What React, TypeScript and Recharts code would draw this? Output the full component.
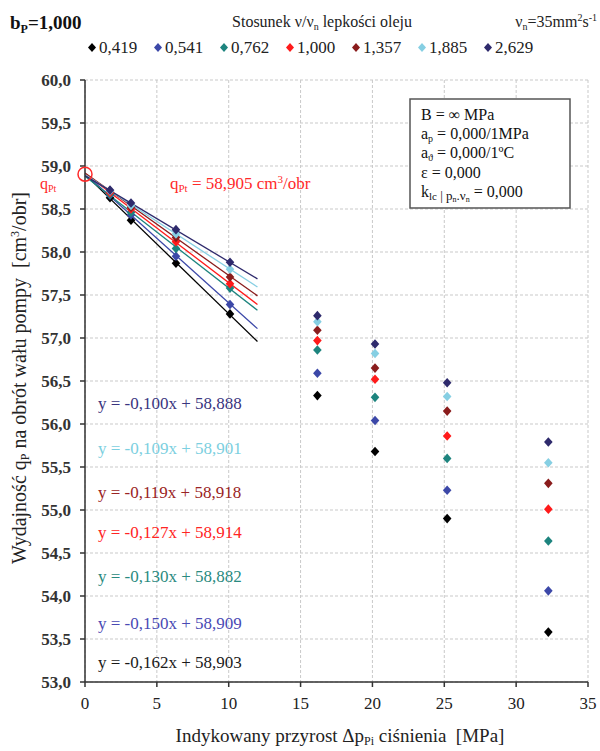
import React from "react";
import {
  CartesianGrid,
  ComposedChart,
  ReferenceDot,
  ReferenceLine,
  Scatter,
  XAxis,
  YAxis,
} from "recharts";

const SERIF = "Liberation Serif, DejaVu Serif, Times New Roman, serif";

// viscosity ratio v/vn for each series
const RATIOS = ["0,419", "0,541", "0,762", "1,000", "1,357", "1,885", "2,629"];
const COLORS = ["#000000", "#3c48a8", "#1d847e", "#ff1a1a", "#8a1c1c", "#86cfe3", "#2e2a6c"];
const EQ_COLORS = ["#1a1a1a", "#4a4ab4", "#2a8a80", "#ff2424", "#9a2424", "#7ccfe0", "#3a3580"];

// indicated pressure increase [MPa]
const PRESSURE = [1.74, 3.2, 6.33, 10.09, 16.17, 20.18, 25.2, 32.24];

// pump displacement per shaft revolution [cm3/obr]
const Q_0419 = [58.63, 58.37, 57.87, 57.28, 56.33, 55.68, 54.9, 53.58];
const Q_0541 = [58.66, 58.43, 57.95, 57.39, 56.59, 56.04, 55.23, 54.06];
const Q_0762 = [58.67, 58.46, 58.04, 57.58, 56.86, 56.31, 55.6, 54.64];
const Q_1000 = [58.69, 58.5, 58.12, 57.63, 56.97, 56.52, 55.86, 55.01];
const Q_1357 = [58.71, 58.52, 58.17, 57.71, 57.09, 56.65, 56.15, 55.31];
const Q_1885 = [58.71, 58.54, 58.21, 57.8, 57.19, 56.82, 56.32, 55.55];
const Q_2629 = [58.72, 58.57, 58.26, 57.88, 57.26, 56.93, 56.48, 55.79];
const SERIES = [Q_0419, Q_0541, Q_0762, Q_1000, Q_1357, Q_1885, Q_2629];

// linear trends y = a*x + b (as printed on chart)
const SLOPES = [-0.162, -0.15, -0.13, -0.127, -0.119, -0.109, -0.1];
const INTERCEPTS = [58.903, 58.909, 58.882, 58.914, 58.918, 58.901, 58.888];
const TREND_RANGE = [0, 12];

const Q_PT = 58.905;

const X_TICKS = [0, 5, 10, 15, 20, 25, 30, 35];
const Y_TICKS = [53, 53.5, 54, 54.5, 55, 55.5, 56, 56.5, 57, 57.5, 58, 58.5, 59, 59.5, 60];

const fmt = (v: number, d: number) => v.toFixed(d).replace(".", ",");

const Diamond = (props: any) => {
  const { cx, cy, fill } = props;
  if (cx == null || cy == null) return <g />;
  return (
    <path
      d={`M${cx},${cy - 4.8}L${cx + 4.3},${cy}L${cx},${cy + 4.8}L${cx - 4.3},${cy}Z`}
      fill={fill}
    />
  );
};

// equation labels, top to bottom: series index and baseline
const EQ_ORDER = [6, 5, 4, 3, 2, 1, 0];
const EQ_Y = [409, 454, 498, 538, 582, 629, 668];

const T = { fontFamily: SERIF };

export default function App() {
  return (
    <div
      style={{
        position: "absolute",
        left: 0,
        top: 0,
        width: 600,
        height: 751,
        background: "#fff",
        fontFamily: SERIF,
      }}
    >
      <ComposedChart width={600} height={751} margin={{ top: 80, right: 12, bottom: 0, left: 0 }}>
        <CartesianGrid stroke="#c9c9c9" strokeDasharray="3 2" />
        <XAxis
          type="number"
          dataKey="x"
          domain={[0, 35]}
          ticks={X_TICKS}
          height={69}
          tickSize={5}
          tickMargin={10}
          stroke="#333"
          strokeWidth={1.5}
          tick={{ fill: "#222", fontSize: 17, style: T }}
        />
        <YAxis
          type="number"
          dataKey="y"
          domain={[53, 60]}
          ticks={Y_TICKS}
          width={85}
          tickSize={5}
          tickMargin={9}
          stroke="#333"
          strokeWidth={1.5}
          tickFormatter={(v: number) => fmt(v, 1)}
          tick={{ fill: "#333", fontSize: 17, fontWeight: "bold", style: T }}
        />
        {SLOPES.map((a, i) => (
          <ReferenceLine
            key={"t" + i}
            segment={[
              { x: TREND_RANGE[0], y: INTERCEPTS[i] + a * TREND_RANGE[0] },
              { x: TREND_RANGE[1], y: INTERCEPTS[i] + a * TREND_RANGE[1] },
            ]}
            stroke={COLORS[i]}
            strokeWidth={1.3}
          />
        ))}
        {SERIES.map((vals, i) => (
          <Scatter
            key={"s" + i}
            name={RATIOS[i]}
            data={PRESSURE.map((x, j) => ({ x, y: vals[j] }))}
            fill={COLORS[i]}
            shape={Diamond}
            isAnimationActive={false}
          />
        ))}
        <ReferenceDot
          x={0}
          y={Q_PT}
          r={7}
          fill="none"
          stroke="#ff2a2a"
          strokeWidth={1.5}
          ifOverflow="visible"
        />
      </ComposedChart>

      <svg
        width={600}
        height={751}
        style={{ position: "absolute", left: 0, top: 0, pointerEvents: "none", fontFamily: SERIF }}
      >
        {/* header */}
        <text x={10} y={29} fontSize={19} fontWeight="bold" fill="#111" style={T}>
          b<tspan fontSize={12} dy={4}>P</tspan>
          <tspan dy={-4}>=1,000</tspan>
        </text>
        <text x={322} y={27} fontSize={16} textAnchor="middle" fill="#222" style={T}>
          Stosunek ν/ν<tspan fontSize={10} dy={3}>n</tspan>
          <tspan dy={-3}> lepkości oleju</tspan>
        </text>
        <text x={597} y={27} fontSize={16} textAnchor="end" fill="#222" style={T}>
          ν<tspan fontSize={10} dy={3}>n</tspan>
          <tspan dy={-3}>=35mm</tspan>
          <tspan fontSize={10} dy={-6}>2</tspan>
          <tspan fontSize={16} dy={6}>s</tspan>
          <tspan fontSize={10} dy={-6}>-1</tspan>
        </text>

        {/* legend */}
        {RATIOS.map((r, i) => {
          const x = 92 + i * 66;
          return (
            <g key={"l" + i}>
              <path d={`M${x},${43}L${x + 4},${47.5}L${x},${52}L${x - 4},${47.5}Z`} fill={COLORS[i]} />
              <text x={x + 7} y={53} fontSize={17} fill="#222" style={T}>
                {r}
              </text>
            </g>
          );
        })}

        {/* parameter box */}
        <rect x={410} y={99} width={160} height={109} fill="#fff" stroke="#555" strokeWidth={1.5} />
        <g fontSize={16} fill="#111" style={T}>
          <text x={421} y={120}>B = ∞ MPa</text>
          <text x={421} y={139}>
            a<tspan fontSize={10} dy={3}>p</tspan>
            <tspan dy={-3}> = 0,000/1MPa</tspan>
          </text>
          <text x={421} y={158}>
            a<tspan fontSize={10} dy={3}>ϑ</tspan>
            <tspan dy={-3}> = 0,000/1ºC</tspan>
          </text>
          <text x={421} y={178}>ε = 0,000</text>
          <text x={421} y={197}>
            k<tspan fontSize={11} dy={3}>lc</tspan>
            <tspan fontSize={13} dy={0}> | p</tspan>
            <tspan fontSize={8} dy={2}>n</tspan>
            <tspan fontSize={13} dy={-2}>.ν</tspan>
            <tspan fontSize={8} dy={2}>n</tspan>
            <tspan fontSize={16} dy={-5}> = 0,000</tspan>
          </text>
        </g>

        {/* qPt annotations */}
        <text x={40} y={189} fontSize={16} fill="#ff2a2a" style={T}>
          q<tspan fontSize={10} dy={3}>Pt</tspan>
        </text>
        <text x={170} y={189} fontSize={17} fill="#ff2a2a" style={T}>
          q<tspan fontSize={11} dy={3}>Pt</tspan>
          <tspan dy={-3}> = {fmt(Q_PT, 3)} cm</tspan>
          <tspan fontSize={11} dy={-6}>3</tspan>
          <tspan fontSize={17} dy={6}>/obr</tspan>
        </text>

        {/* trend equations */}
        {EQ_ORDER.map((si, k) => (
          <text key={"e" + si} x={98} y={EQ_Y[k]} fontSize={17} fill={EQ_COLORS[si]} style={T}>
            {`y = ${fmt(SLOPES[si], 3)}x + ${fmt(INTERCEPTS[si], 3)}`}
          </text>
        ))}

        {/* axis titles */}
        <text
          x={340}
          y={742}
          fontSize={19}
          textAnchor="middle"
          fill="#222"
          style={{ ...T, whiteSpace: "pre" }}
        >
          Indykowany przyrost Δp<tspan fontSize={12} dy={3}>Pi</tspan>
          <tspan dy={-3}>{" ciśnienia  [MPa]"}</tspan>
        </text>
        <text
          x={0}
          y={0}
          fontSize={20}
          textAnchor="middle"
          fill="#222"
          transform="translate(26,378) rotate(-90)"
          style={{ ...T, whiteSpace: "pre" }}
        >
          Wydajność q<tspan fontSize={12} dy={3}>P</tspan>
          <tspan dy={-3}>{" na obrót wału pompy  [cm"}</tspan>
          <tspan fontSize={12} dy={-7}>3</tspan>
          <tspan fontSize={20} dy={7}>/obr]</tspan>
        </text>
      </svg>
    </div>
  );
}
